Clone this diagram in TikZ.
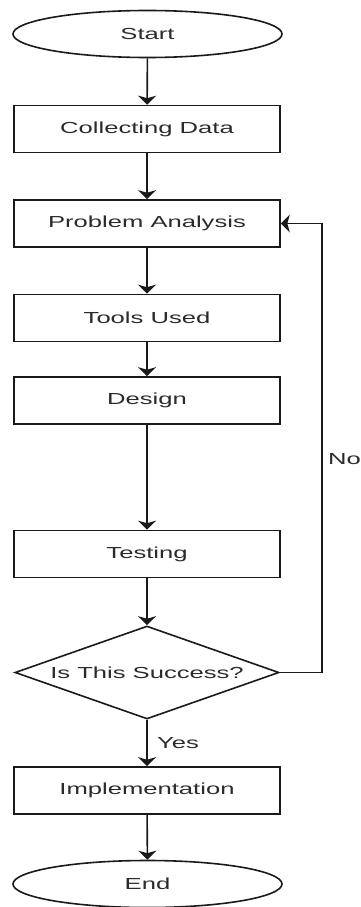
\documentclass[tikz,border=0pt]{standalone}
\usepackage{fontspec}
\setmainfont{Liberation Sans}[FakeStretch=1.6]
\usetikzlibrary{shapes.geometric,arrows.meta}
\definecolor{lineC}{HTML}{1A1A1A}
\definecolor{textC}{HTML}{2B2B2B}
\tikzset{
  base/.style={draw=lineC, line width=1.6pt, inner sep=0pt, text=textC,
    font=\fontsize{16}{19}\selectfont},
  stepbox/.style={base, rectangle, minimum width=266pt, minimum height=47pt},
  term/.style={base, ellipse, minimum width=269pt, minimum height=47pt},
  decide/.style={base, diamond, aspect=2.84, minimum width=264pt, minimum height=93pt},
  conn/.style={draw=lineC, line width=1.6pt, -{Stealth[length=9pt,width=18pt,inset=2.5pt]}},
  lbl/.style={text=textC, font=\fontsize{16}{19}\selectfont, inner sep=0pt}
}
\begin{document}
\begin{tikzpicture}[x=1pt,y=-1pt]
\useasboundingbox (0,0) rectangle (360,907);
\node[term] (start) at (147.5,34) {Start};
\node[stepbox] (collect) at (147,129) {Collecting Data};
\node[stepbox] (pa) at (147,223.5) {Problem Analysis};
\node[stepbox] (tools) at (147,318) {Tools Used};
\node[stepbox] (design) at (147,400.5) {Design};
\node[stepbox] (test) at (147,554) {Testing};
\node[decide] (dec) at (147,672.5) {Is This Success?};
\node[stepbox] (impl) at (147,790.5) {Implementation};
\node[term] (end) at (147.5,884) {End};
\coordinate (loop) at (322,672.5);
\draw[conn] (start) -- (collect);
\draw[conn] (collect) -- (pa);
\draw[conn] (pa) -- (tools);
\draw[conn] (tools) -- (design);
\draw[conn] (design) -- (test);
\draw[conn] (test) -- (dec);
\draw[conn] (dec) -- (impl);
\draw[conn] (impl) -- (end);
\draw[conn] (dec.east) -- (loop) |- (pa.east);
\node[lbl, anchor=west] (no) at (328,459) {No};
\node[lbl, anchor=west] (yes) at (157,743) {Yes};
\end{tikzpicture}
\end{document}
